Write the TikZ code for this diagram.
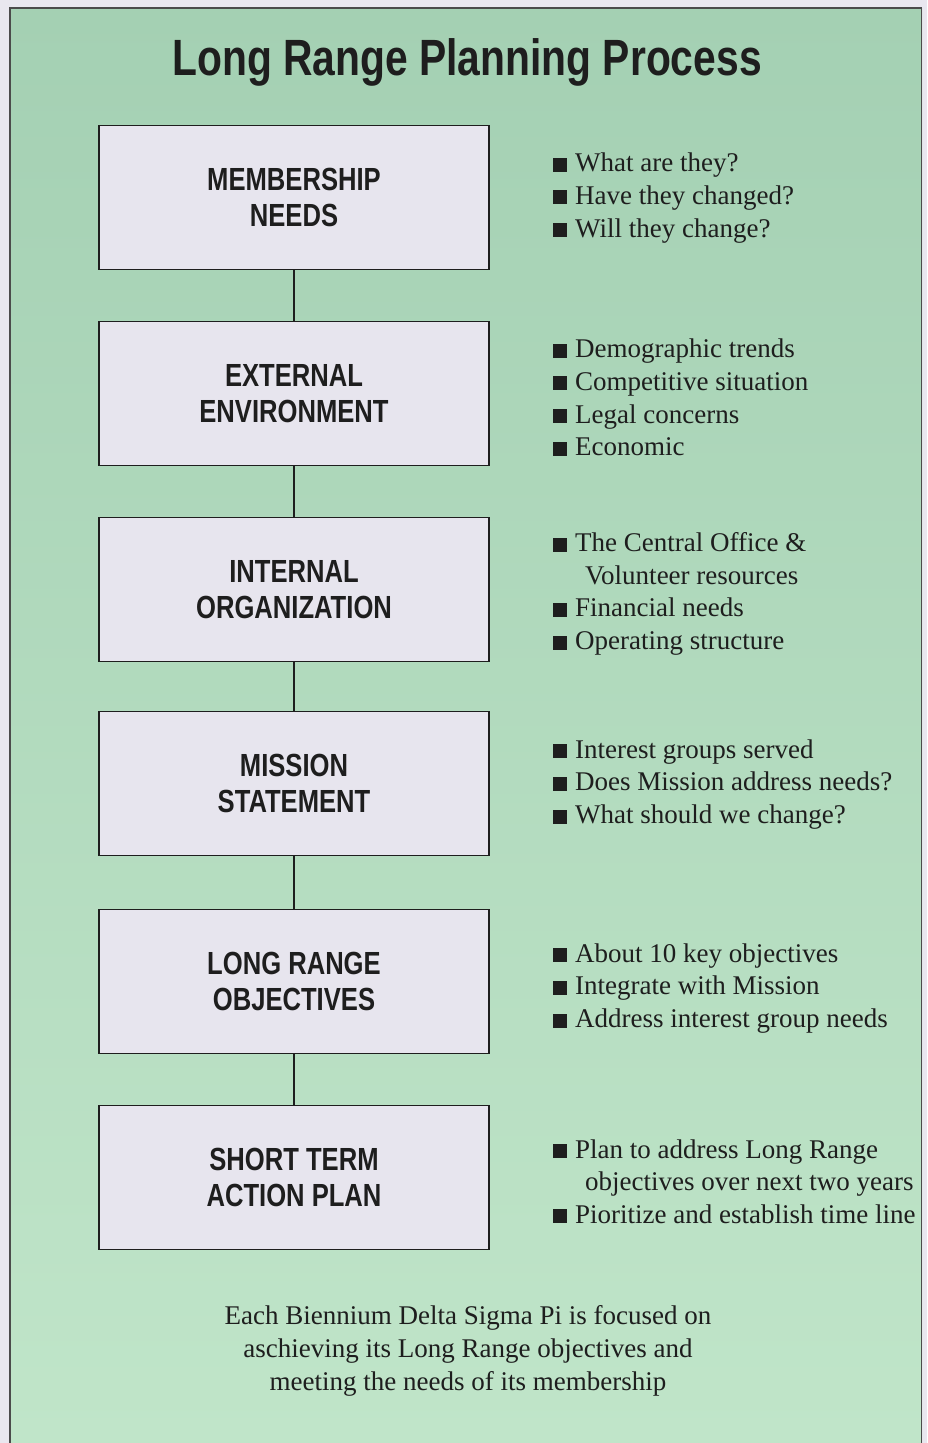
\documentclass[tikz,border=0pt]{standalone}
\usepackage{fontspec}
\setmainfont{Liberation Serif}
\newfontfamily\condfont[FakeStretch=0.8]{Liberation Sans}
\definecolor{panel}{HTML}{A4D0B3}
\definecolor{panellow}{HTML}{C0E5C9}
\definecolor{boxfill}{HTML}{E7E5EE}
\definecolor{margin}{HTML}{E9E7EF}
\definecolor{ink}{HTML}{1E1E1E}
\newcommand{\sq}{\rule{14pt}{14pt}\hspace{8pt}}

\begin{document}
\begin{tikzpicture}
  [x=1pt,y=-1pt,every node/.style={text=ink},
   stage/.style={draw=ink,line width=1.4pt,fill=boxfill,minimum width=390pt,minimum height=144pt,align=center,font=\condfont\bfseries\fontsize{32}{36}\selectfont},
   points/.style={anchor=west,inner sep=0pt,align=left,font=\fontsize{27}{32.6}\selectfont}]

  \useasboundingbox (0,0) rectangle (927,1443);
  \fill[margin] (0,0) rectangle (927,1443);
  \shade[top color=panel,bottom color=panellow] (10,8) rectangle (922,1443);
  \draw[ink!80,line width=1.2pt] (10,1443) -- (10,8) -- (921.5,8) -- (921.5,1443);

  \node (title) at (467,62) {\condfont\bfseries\fontsize{51}{56}\selectfont Long Range Planning Process};

  \node[stage] (b1) at (294,197.5) {MEMBERSHIP\\NEEDS};
  \node[stage] (b2) at (294,393.5) {EXTERNAL\\ENVIRONMENT};
  \node[stage] (b3) at (294,589.5) {INTERNAL\\ORGANIZATION};
  \node[stage] (b4) at (294,783.5) {MISSION\\STATEMENT};
  \node[stage] (b5) at (294,981.5) {LONG RANGE\\OBJECTIVES};
  \node[stage] (b6) at (294,1177.5) {SHORT TERM\\ACTION PLAN};

  \node[points] (t1) at (553,198) {\sq What are they?\\\sq Have they changed?\\\sq Will they change?};
  \node[points] (t2) at (553,397.5) {\sq Demographic trends\\\sq Competitive situation\\\sq Legal concerns\\\sq Economic};
  \node[points] (t3) at (553,594) {\sq The Central Office \&\\\hspace*{32pt}Volunteer resources\\\sq Financial needs\\\sq Operating structure};
  \node[points] (t4) at (553,784.5) {\sq Interest groups served\\\sq Does Mission address needs?\\\sq What should we change?};
  \node[points] (t5) at (553,988.5) {\sq About 10 key objectives\\\sq Integrate with Mission\\\sq Address interest group needs};
  \node[points] (t6) at (553,1181.5) {\sq Plan to address Long Range\\\hspace*{32pt}objectives over next two years\\\sq Pioritize and establish time line};

  \node[align=center,font=\fontsize{27}{33}\selectfont] (note) at (468,1351) {Each Biennium Delta Sigma Pi is focused on\\aschieving its Long Range objectives and\\meeting the needs of its membership};

  \foreach \from/\to in {b1/b2,b2/b3,b3/b4,b4/b5,b5/b6}
    \draw[ink,line width=1.4pt] (\from) -- (\to);
\end{tikzpicture}
\end{document}
